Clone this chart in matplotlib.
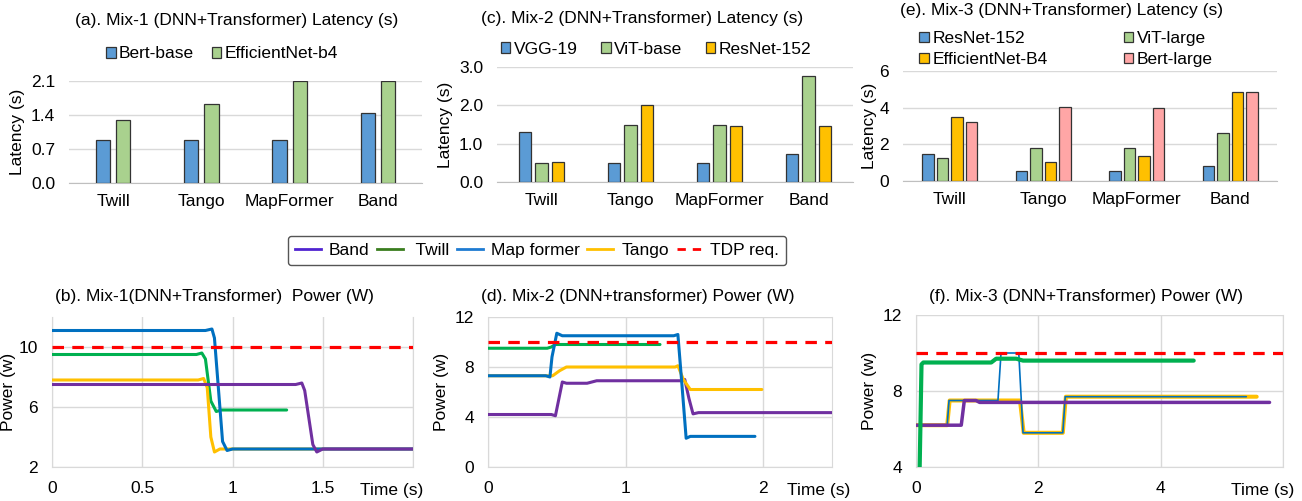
import matplotlib.pyplot as plt
from matplotlib.lines import Line2D

plt.rcParams['font.family'] = ['Liberation Sans', 'DejaVu Sans']
plt.rcParams['font.size'] = 12

# ---- latency data (top row) ----
systems = ['Twill', 'Tango', 'MapFormer', 'Band']

mix1_models = ['Bert-base', 'EfficientNet-b4']
mix1_latency = [[0.88, 0.88, 0.88, 1.45],
                [1.30, 1.63, 2.10, 2.10]]

mix2_models = ['VGG-19', 'ViT-base', 'ResNet-152']
mix2_latency = [[1.30, 0.50, 0.50, 0.73],
                [0.50, 1.48, 1.49, 2.77],
                [0.52, 2.00, 1.47, 1.47]]

mix3_models = ['ResNet-152', 'ViT-large', 'EfficientNet-B4', 'Bert-large']
mix3_latency = [[1.46, 0.54, 0.54, 0.80],
                [1.28, 1.80, 1.80, 2.64],
                [3.49, 1.05, 1.36, 4.83],
                [3.20, 4.01, 3.98, 4.85]]

# ---- power traces (bottom row) ----
tdp_req = 10

b_band_t = [0, 1.35, 1.384, 1.40, 1.445, 1.467, 1.50, 2.0]
b_band_p = [7.5, 7.5, 7.6, 7.1, 3.5, 3.0, 3.2, 3.2]
b_twill_t = [0, 0.80, 0.83, 0.85, 0.88, 0.91, 0.94, 1.30]
b_twill_p = [9.5, 9.5, 9.6, 9.2, 6.4, 5.7, 5.8, 5.8]
b_map_t = [0, 0.85, 0.886, 0.90, 0.945, 0.97, 1.0, 2.0]
b_map_p = [11.1, 11.1, 11.2, 10.6, 3.7, 3.1, 3.2, 3.2]
b_tango_t = [0, 0.81, 0.84, 0.86, 0.88, 0.90, 0.93, 2.0]
b_tango_p = [7.8, 7.8, 7.9, 7.3, 4.0, 3.0, 3.2, 3.2]

d_band_t = [0, 0.46, 0.49, 0.54, 0.57, 0.72, 0.79, 1.41, 1.43, 1.46, 1.49, 1.53, 2.5]
d_band_p = [4.2, 4.2, 4.1, 6.8, 6.7, 6.7, 6.9, 6.9, 7.0, 5.5, 4.25, 4.35, 4.35]
d_twill_t = [0, 0.43, 0.46, 0.49, 1.25]
d_twill_p = [9.5, 9.5, 9.6, 9.8, 9.8]
d_map_t = [0, 0.42, 0.45, 0.465, 0.50, 0.54, 1.35, 1.38, 1.41, 1.44, 1.47, 1.94]
d_map_p = [7.3, 7.3, 7.2, 8.8, 10.7, 10.5, 10.5, 10.6, 6.5, 2.3, 2.45, 2.45]
d_tango_t = [0, 0.47, 0.52, 0.57, 1.36, 1.38, 1.42, 1.47, 1.99]
d_tango_p = [7.3, 7.3, 7.7, 8.0, 8.0, 8.1, 7.0, 6.2, 6.2]

f_band_t = [0, 0.74, 0.79, 0.98, 1.04, 5.78]
f_band_p = [6.2, 6.2, 7.5, 7.5, 7.4, 7.4]
f_twill_t = [0.06, 0.09, 0.12, 1.23, 1.31, 1.64, 1.75, 4.54]
f_twill_p = [4.0, 9.4, 9.5, 9.5, 9.7, 9.7, 9.6, 9.6]
f_map_t = [0, 0.51, 0.54, 1.34, 1.39, 1.68, 1.75, 2.40, 2.44, 5.40]
f_map_p = [6.2, 6.2, 7.5, 7.5, 10.0, 10.0, 5.8, 5.8, 7.7, 7.7]
f_tango_t = [0, 0.51, 0.55, 1.70, 1.76, 2.40, 2.45, 5.57]
f_tango_p = [6.2, 6.2, 7.5, 7.5, 5.8, 5.8, 7.7, 7.7]

BAR_COLORS = ['#5B9BD5', '#A9D18E', '#FFC000', '#FFA6A6']
GRID = '#D9D9D9'
C_BAND, C_TWILL, C_MAP, C_TANGO = '#7030A0', '#00B050', '#0070C0', '#FFC000'

W, H = 1302, 501
fig = plt.figure(figsize=(W / 100, H / 100), dpi=100)


def box(x0, y0, x1, y1):
    # pixel box -> figure fraction rect
    return [x0 / W, 1 - y1 / H, (x1 - x0) / W, (y1 - y0) / H]


def bar_panel(rect, models, values, width, step, ylim, yticks, fmt,
              title, title_xy, leg_xy, leg_ncol, colsp, ylab_x):
    ax = fig.add_axes(rect)
    n = len(models)
    for i, (m, v) in enumerate(zip(models, values)):
        off = (i - (n - 1) / 2) * step
        ax.bar([k + off for k in range(len(systems))], v, width,
               color=BAR_COLORS[i], edgecolor='#333333', linewidth=0.9,
               label=m, zorder=3)
    ax.set_xlim(-0.5, len(systems) - 0.5)
    ax.set_ylim(*ylim)
    ax.set_xticks(range(len(systems)))
    ax.set_xticklabels(systems, fontsize=12.5)
    ax.set_yticks(yticks)
    ax.set_yticklabels([fmt.format(t) for t in yticks], fontsize=12.5)
    ax.tick_params(length=0)
    ax.tick_params(axis='x', pad=8)
    ax.tick_params(axis='y', pad=10)
    ax.grid(axis='y', color=GRID, linewidth=1, zorder=0)
    for s in ['top', 'right', 'left']:
        ax.spines[s].set_visible(False)
    ax.spines['bottom'].set_color('#BFBFBF')
    ax.set_ylabel('Latency (s)', fontsize=12.5)
    ax.yaxis.set_label_coords(ylab_x, 0.5)
    fig.text(title_xy[0] / W, 1 - title_xy[1] / H, title, ha='center',
             va='center', fontsize=12.5)
    handles, labels = ax.get_legend_handles_labels()
    if leg_ncol == 2 and n == 4:
        handles = [handles[0], handles[2], handles[1], handles[3]]
        labels = [labels[0], labels[2], labels[1], labels[3]]
    fig.legend(handles, labels, loc='center', ncol=leg_ncol,
               bbox_to_anchor=(leg_xy[0] / W, 1 - leg_xy[1] / H),
               frameon=False, handlelength=0.55, handleheight=0.55,
               handletextpad=0.2, columnspacing=colsp, borderpad=0,
               labelspacing=0.35, fontsize=12.5)
    return ax


bar_panel(box(69, 81, 422, 183), mix1_models, mix1_latency, 0.162, 0.23,
          (0, 2.1), [0, 0.7, 1.4, 2.1], '{:.1f}',
          '(a). Mix-1 (DNN+Transformer) Latency (s)', (237, 21),
          (222, 54), 2, 1.0, -0.124)
bar_panel(box(497, 67, 853, 182), mix2_models, mix2_latency, 0.135, 0.183,
          (0, 3.0), [0, 1.0, 2.0, 3.0], '{:.1f}',
          '(c). Mix-2 (DNN+Transformer) Latency (s)', (642, 18),
          (656, 49), 3, 1.35, -0.124)
bar_panel(box(903, 71, 1277, 181), mix3_models, mix3_latency, 0.121, 0.155,
          (0, 6), [0, 2, 4, 6], '{:.0f}',
          '(e). Mix-3 (DNN+Transformer) Latency (s)', (1062, 11),
          (1066, 49), 2, 4.4, -0.07)


def power_panel(rect, traces, xlim, xticks, xlabels, ylim, yticks, title,
                title_x, time_x, ylab_x):
    ax = fig.add_axes(rect)
    for t, p, c, lw in traces:
        ax.plot(t, p, color=c, linewidth=lw, solid_joinstyle='round',
                solid_capstyle='round', zorder=3)
    ax.axhline(tdp_req, color='#FF0000', linewidth=2.3, dashes=(3.6, 2.6),
               zorder=4)
    ax.set_xlim(*xlim)
    ax.set_ylim(*ylim)
    ax.set_xticks(xticks)
    ax.set_xticklabels(xlabels, fontsize=12.5)
    ax.set_yticks(yticks)
    ax.set_yticklabels([str(v) for v in yticks], fontsize=12.5)
    ax.tick_params(length=0, pad=10)
    ax.tick_params(axis='y', pad=10)
    ax.grid(color=GRID, linewidth=1, zorder=0)
    ax.spines['top'].set_visible(False)
    for s in ['left', 'bottom', 'right']:
        ax.spines[s].set_color(GRID)
    ax.set_ylabel('Power (w)', fontsize=12.5)
    ax.yaxis.set_label_coords(ylab_x, 0.5)
    ax.text(time_x, -0.155, 'Time (s)', transform=ax.transAxes,
            ha='center', va='center', fontsize=12.5)
    fig.text(title_x / W, 1 - 297 / H, title, ha='center', va='center',
             fontsize=12.5)
    return ax


power_panel(box(52, 317, 413, 467),
            [(b_twill_t, b_twill_p, C_TWILL, 2.2),
             (b_tango_t, b_tango_p, C_TANGO, 2.2),
             (b_map_t, b_map_p, C_MAP, 2.2),
             (b_band_t, b_band_p, C_BAND, 2.2)],
            (0, 2), [0, 0.5, 1, 1.5, 2], ['0', '0.5', '1', '1.5', ''],
            (2, 12), [2, 6, 10],
            '(b). Mix-1(DNN+Transformer)  Power (W)', 214, 0.941, -0.10)
power_panel(box(488, 317, 832, 467),
            [(d_band_t, d_band_p, C_BAND, 2.2),
             (d_tango_t, d_tango_p, C_TANGO, 2.2),
             (d_twill_t, d_twill_p, C_TWILL, 2.2),
             (d_map_t, d_map_p, C_MAP, 2.2)],
            (0, 2.5), [0, 1, 2], ['0', '1', '2'],
            (0, 12), [0, 4, 8, 12],
            '(d). Mix-2 (DNN+transformer) Power (W)', 638, 0.961, -0.114)
power_panel(box(916, 315, 1283, 467),
            [(f_tango_t, f_tango_p, C_TANGO, 2.9),
             (f_map_t, f_map_p, C_MAP, 1.2),
             (f_band_t, f_band_p, C_BAND, 2.5),
             (f_twill_t, f_twill_p, C_TWILL, 3.0)],
            (0, 6), [0, 2, 4, 6], ['0', '2', '4', ''],
            (4, 12), [4, 8, 12],
            '(f). Mix-3 (DNN+Transformer) Power (W)', 1086, 0.945, -0.106)

# shared legend for the power plots
leg_handles = [Line2D([], [], color='#5024D0', linewidth=2),
               Line2D([], [], color='#3A7D1E', linewidth=2),
               Line2D([], [], color='#1E7BD2', linewidth=2),
               Line2D([], [], color='#FFC000', linewidth=2),
               Line2D([], [], color='#FF0000', linewidth=2, dashes=(3, 2.5))]
leg_labels = ['Band', ' Twill', 'Map former', 'Tango', 'TDP req.']
fig.legend(leg_handles, leg_labels, loc='center', ncol=5,
           bbox_to_anchor=(537 / W, 1 - 250.5 / H), fontsize=12.5,
           handlelength=1.5, handletextpad=0.45, columnspacing=0.45,
           frameon=True, fancybox=True, edgecolor='#555555',
           framealpha=1, borderpad=0.4)

fig.savefig('out.png', dpi=100)
